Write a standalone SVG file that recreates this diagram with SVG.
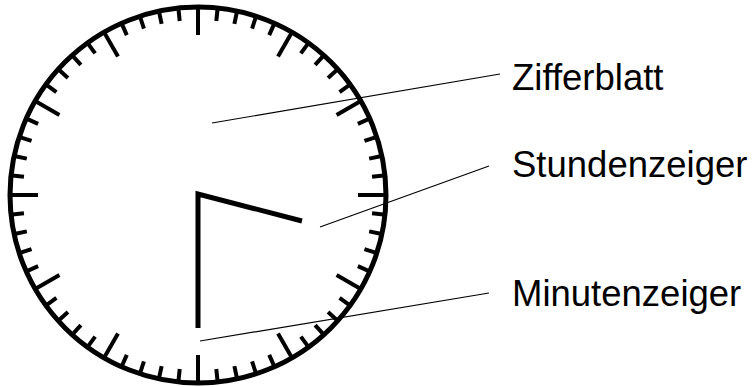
<svg xmlns="http://www.w3.org/2000/svg" xmlns:xlink="http://www.w3.org/1999/xlink" width="755" height="387" viewBox="0 0 755 387">
<style>
.lbl{font-family:"Liberation Sans",Arial,sans-serif;font-size:36.5px;fill:#000}
.lead{stroke:#000;stroke-width:1.2;fill:none}
.tk{stroke:#000;stroke-width:4}
</style>
<defs>
<line id="mn" class="tk" x1="0" y1="-189" x2="0" y2="-175"/>
<line id="mj" class="tk" x1="0" y1="-189" x2="0" y2="-160"/>
</defs>
<rect width="755" height="387" fill="#fff"/>
<g id="dial" transform="translate(198,195)">
<circle r="188" fill="none" stroke="#000" stroke-width="5"/>
<use xlink:href="#mj" transform="rotate(0)"/><use xlink:href="#mn" transform="rotate(6)"/><use xlink:href="#mn" transform="rotate(12)"/><use xlink:href="#mn" transform="rotate(18)"/><use xlink:href="#mn" transform="rotate(24)"/>
<use xlink:href="#mj" transform="rotate(30)"/><use xlink:href="#mn" transform="rotate(36)"/><use xlink:href="#mn" transform="rotate(42)"/><use xlink:href="#mn" transform="rotate(48)"/><use xlink:href="#mn" transform="rotate(54)"/>
<use xlink:href="#mj" transform="rotate(60)"/><use xlink:href="#mn" transform="rotate(66)"/><use xlink:href="#mn" transform="rotate(72)"/><use xlink:href="#mn" transform="rotate(78)"/><use xlink:href="#mn" transform="rotate(84)"/>
<use xlink:href="#mj" transform="rotate(90)"/><use xlink:href="#mn" transform="rotate(96)"/><use xlink:href="#mn" transform="rotate(102)"/><use xlink:href="#mn" transform="rotate(108)"/><use xlink:href="#mn" transform="rotate(114)"/>
<use xlink:href="#mj" transform="rotate(120)"/><use xlink:href="#mn" transform="rotate(126)"/><use xlink:href="#mn" transform="rotate(132)"/><use xlink:href="#mn" transform="rotate(138)"/><use xlink:href="#mn" transform="rotate(144)"/>
<use xlink:href="#mj" transform="rotate(150)"/><use xlink:href="#mn" transform="rotate(156)"/><use xlink:href="#mn" transform="rotate(162)"/><use xlink:href="#mn" transform="rotate(168)"/><use xlink:href="#mn" transform="rotate(174)"/>
<use xlink:href="#mj" transform="rotate(180)"/><use xlink:href="#mn" transform="rotate(186)"/><use xlink:href="#mn" transform="rotate(192)"/><use xlink:href="#mn" transform="rotate(198)"/><use xlink:href="#mn" transform="rotate(204)"/>
<use xlink:href="#mj" transform="rotate(210)"/><use xlink:href="#mn" transform="rotate(216)"/><use xlink:href="#mn" transform="rotate(222)"/><use xlink:href="#mn" transform="rotate(228)"/><use xlink:href="#mn" transform="rotate(234)"/>
<use xlink:href="#mj" transform="rotate(240)"/><use xlink:href="#mn" transform="rotate(246)"/><use xlink:href="#mn" transform="rotate(252)"/><use xlink:href="#mn" transform="rotate(258)"/><use xlink:href="#mn" transform="rotate(264)"/>
<use xlink:href="#mj" transform="rotate(270)"/><use xlink:href="#mn" transform="rotate(276)"/><use xlink:href="#mn" transform="rotate(282)"/><use xlink:href="#mn" transform="rotate(288)"/><use xlink:href="#mn" transform="rotate(294)"/>
<use xlink:href="#mj" transform="rotate(300)"/><use xlink:href="#mn" transform="rotate(306)"/><use xlink:href="#mn" transform="rotate(312)"/><use xlink:href="#mn" transform="rotate(318)"/><use xlink:href="#mn" transform="rotate(324)"/>
<use xlink:href="#mj" transform="rotate(330)"/><use xlink:href="#mn" transform="rotate(336)"/><use xlink:href="#mn" transform="rotate(342)"/><use xlink:href="#mn" transform="rotate(348)"/><use xlink:href="#mn" transform="rotate(354)"/>
</g>
<g id="hands">
<polyline points="302,221 198,194 198,328" fill="none" stroke="#000" stroke-width="5" stroke-linejoin="miter"/>
</g>
<g id="connectors">
<line class="lead" x1="212" y1="123" x2="500" y2="74"/>
<line class="lead" x1="320" y1="227" x2="489" y2="166"/>
<line class="lead" x1="200" y1="341" x2="489" y2="293"/>
</g>
<g id="label-zifferblatt"><text class="lbl" x="512" y="90">Zifferblatt</text></g>
<g id="label-stundenzeiger"><text class="lbl" x="512" y="176.5">Stundenzeiger</text></g>
<g id="label-minutenzeiger"><text class="lbl" x="512" y="306">Minutenzeiger</text></g>
</svg>
